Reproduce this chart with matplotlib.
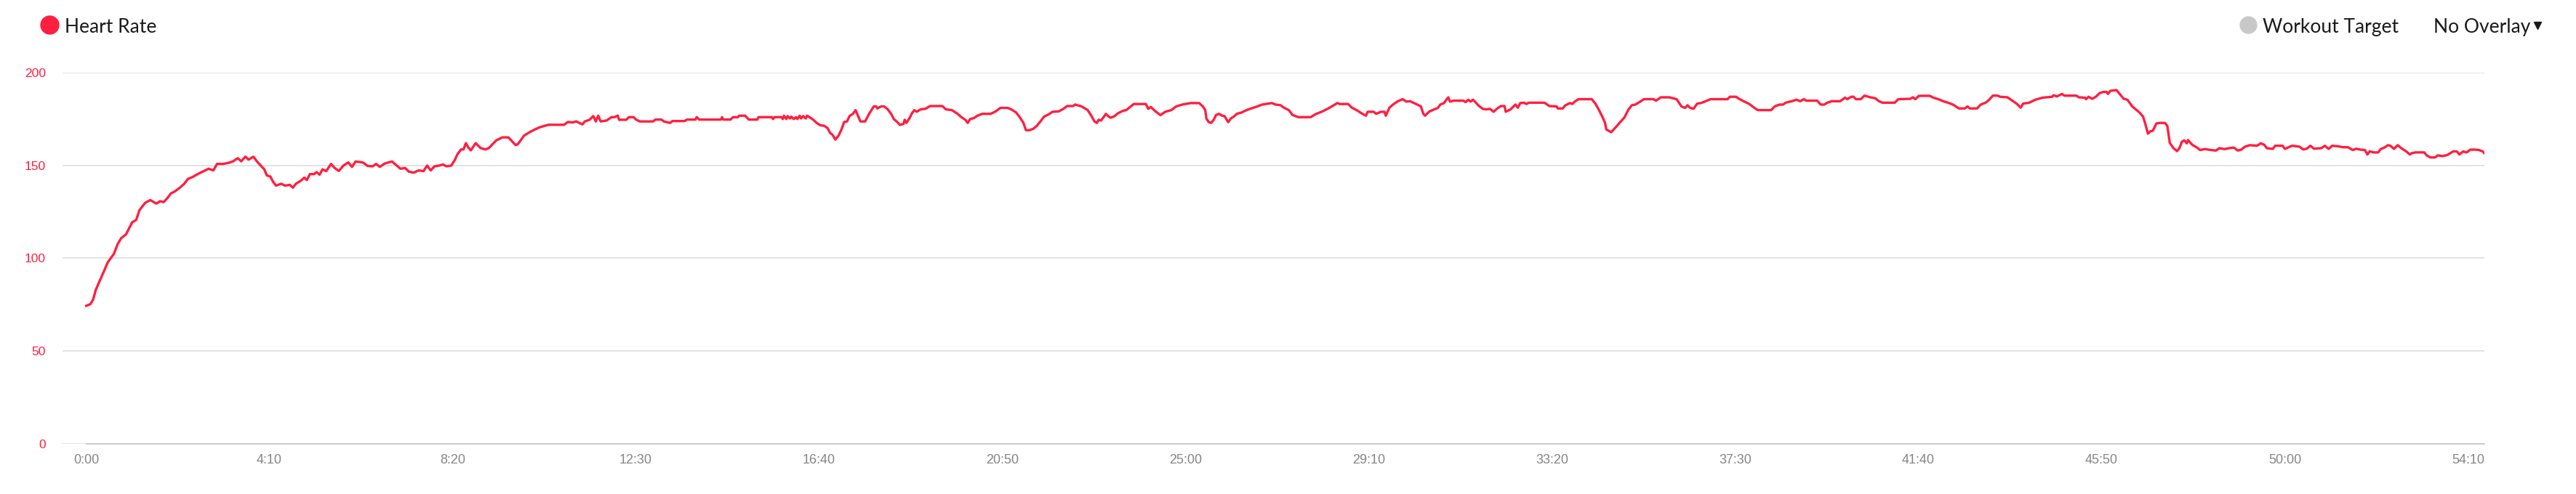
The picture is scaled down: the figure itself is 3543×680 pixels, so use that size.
import numpy as np
import matplotlib
matplotlib.use("Agg")
import matplotlib.pyplot as plt
from matplotlib.lines import Line2D
from matplotlib.ticker import FuncFormatter

# heart rate trace, elapsed seconds / bpm
elapsed_s = [
    0, 5.7, 9.5, 13, 18, 24.5, 29.5, 37.8, 42.8, 47.8, 54.3, 59.3, 62.7, 68.2, 72.6, 77.6,
    80.8, 87.5, 95.7, 100.7, 105.7, 110.6, 115.6, 120.6, 127.2, 133.8, 138.8, 145.4, 152,
    160.3, 167, 173.5, 178.5, 186.8, 193.4, 200, 206.7, 211.6, 217.2, 221.5, 228.1, 233.1,
    238.1, 243, 246.4, 251.3, 254.6, 258.9, 266.2, 271.2, 277.8, 282.1, 286.1, 292.7, 297.6,
    301, 305.3, 310.9, 314.2, 318.5, 322.5, 327.4, 334.1, 339, 344.7, 350.9,
    357.6, 362.6, 367.5, 377.5, 384, 390.7, 395.6, 400.6, 407.2, 417.2, 422.1, 428.7, 435.3,
    440.3, 447, 453.5, 460.2, 465.1, 470.1, 475.1, 481.7, 486.7, 491.6, 498.2, 503.2, 506.5,
    511.5, 514.8, 518.1, 521.5, 524.8, 531.4, 538, 544.6, 549.5, 559.5, 567.7, 576.1, 586,
    589.3, 597.5, 605.9, 612.4, 619.1, 630.7, 652.1, 657.1, 663.7, 668.7, 677, 680.3, 686.9,
    691.9, 695.3, 698.6, 701.9, 710.1, 716.7, 720.4,
    725.3, 727, 737, 740.3, 746.9, 750.2, 755.2, 773.4, 776.7, 785, 788.2, 796.6, 799.9,
    816.4, 819.7, 831.3, 832.9, 836.3, 866, 867.6, 869.3, 879.2, 882.5, 889.2, 890.8, 899.1,
    904.1, 915.7, 917.3, 935.5, 937.2, 938.9, 948.8, 950.4, 952, 955.4, 957, 960.4, 962,
    965.3, 968.6, 970.3, 973.6, 975.3, 978.5, 981.8, 983.5, 986.8, 991.8, 996.7, 1001.7,
    1006.7, 1011.6, 1015, 1018.3, 1022.2, 1026.5, 1029.9, 1034.2, 1038.1, 1041.5, 1046.4,
    1049.8, 1053, 1056.3, 1062.9, 1067.9, 1074.6, 1077.9, 1079.5, 1084.5,
    1088.7, 1093.7, 1098.6, 1101.9, 1106.9, 1110.2, 1115.2, 1116.8, 1119.1, 1123.4, 1126.7,
    1130.0, 1133.3, 1138.3, 1144.9, 1151.5, 1168.1, 1173.0, 1181.3, 1187.9, 1194.5, 1199.5,
    1202.8, 1206.1, 1211.1, 1216.0, 1222.6, 1234.2, 1240.8, 1247.4, 1257.4, 1262.3, 1268.9,
    1273.9, 1278.8, 1282.2, 1287.1, 1292.1, 1297.0, 1302.0, 1307.0, 1313.6, 1318.5, 1326.8,
    1333.4, 1338.4, 1346.6, 1349.3, 1358.2, 1366.5, 1371.4, 1375.7, 1379.0, 1381.4, 1384.7,
    1388.0, 1391.3, 1394.6, 1397.9, 1402.9, 1407.8, 1414.4, 1419.4, 1426.0, 1429.3, 1445.8,
    1449.1, 1452.5, 1459.1, 1465.7, 1472.3, 1480.6, 1487.2, 1495.5, 1507.0, 1518.6, 1523.6,
    1526.9, 1528.5, 1531.8, 1535.1,
    1538.4, 1541.7, 1545.7, 1550.0, 1553.3, 1558.2, 1561.6, 1566.5, 1569.8, 1576.4, 1583.0,
    1589.7, 1597.9, 1604.5, 1617.8, 1622.7, 1629.3, 1634.3, 1640.9, 1645.9, 1654.1, 1670.7,
    1677.3, 1685.6, 1693.8, 1700.4, 1707.1, 1710.4, 1721.9, 1726.9, 1733.5, 1740.1, 1746.1,
    1748.4, 1756.7, 1760.0, 1766.6, 1771.5, 1773.2, 1778.2, 1783.1, 1789.7, 1796.3, 1801.3,
    1806.3, 1814.5, 1821.1, 1824.5, 1826.8, 1832.7, 1837.7, 1844.3, 1847.6, 1852.6, 1855.9,
    1858.5, 1860.8, 1865.8, 1879.0, 1882.3, 1885.6, 1888.9, 1892.2, 1895.5, 1900.5, 1905.5,
    1910.4, 1915.4, 1920.3, 1925.3, 1930.3, 1935.2, 1936.9, 1943.5, 1950.1, 1953.4, 1956.7,
    1961.7, 1965.0, 1968.3, 1981.5,
    1989.8, 1996.4, 2006.3, 2008.0, 2014.6, 2017.9, 2024.5, 2027.8, 2031.1, 2036.1, 2054.3,
    2059.2, 2064.2, 2069.1, 2072.4, 2074.1, 2080.7, 2087.3, 2093.9, 2098.9, 2103.9, 2108.8,
    2113.8, 2120.4, 2125.3, 2138.6, 2141.9, 2148.5, 2160.1, 2170.0, 2176.6, 2181.6, 2184.9,
    2188.2, 2193.1, 2198.1, 2203.1, 2209.7, 2216.3, 2239.4, 2242.7, 2251.0, 2256.0, 2262.6,
    2269.2, 2275.8, 2280.8, 2299.0, 2303.9, 2310.5, 2315.5, 2318.8, 2327.1, 2333.7, 2338.6,
    2343.6, 2346.9, 2361.8, 2366.7, 2371.7, 2375.0, 2381.6, 2393.2, 2399.8, 2403.1, 2408.1,
    2411.4, 2414.7, 2421.3, 2426.3,
    2434.5, 2441.1, 2446.1, 2451.0, 2467.6, 2472.5, 2489.1, 2492.4, 2495.7, 2500.7, 2515.5,
    2520.5, 2527.1, 2533.7, 2540.3, 2547.0, 2555.2, 2563.5, 2566.8, 2570.1, 2580.0, 2585.0,
    2591.6, 2596.6, 2601.5, 2608.1, 2611.4, 2621.4, 2626.3, 2634.6, 2639.5, 2642.8, 2651.1,
    2659.4, 2669.3, 2682.5, 2684.2, 2689.1, 2695.8, 2699.1, 2715.6, 2718.9, 2727.2, 2728.8,
    2732.1, 2737.1, 2742.1, 2747.0, 2752.0, 2756.9, 2758.6, 2761.9, 2770.2, 2775.1, 2780.1,
    2785.0, 2788.3, 2791.7, 2796.6, 2801.6, 2806.5, 2809.8, 2813.1, 2816.5, 2819.8, 2824.7,
    2829.7, 2836.3, 2839.6, 2842.9, 2847.9, 2852.8, 2856.1, 2859.5, 2862.8, 2866.1, 2867.7,
    2871.0, 2874.3,
    2879.4, 2884.3, 2890.9, 2899.2, 2905.8, 2910.8, 2917.4, 2924.0, 2930.6, 2935.6, 2940.5,
    2945.5, 2952.1, 2962.0, 2967.0, 2971.9, 2975.3, 2983.5, 2986.8, 2996.8, 3000.1, 3005.0,
    3010.0, 3019.9, 3024.9, 3029.8, 3034.8, 3039.7, 3049.7, 3054.6, 3059.6, 3064.5, 3072.8,
    3079.4, 3086.0, 3092.6, 3097.6, 3102.6, 3109.2, 3112.5, 3115.8, 3120.8, 3127.4, 3130.7,
    3135.6, 3140.6, 3143.9, 3148.9, 3153.8, 3158.8, 3165.4, 3170.4, 3173.7, 3178.6, 3190.2,
    3193.5, 3198.5, 3205.1, 3208.4, 3215.0, 3221.6, 3224.9, 3229.9, 3234.8, 3238.1, 3243.1,
    3248.1, 3253.0, 3259.6, 3264.6, 3269.6, 3272.9,
]

heart_rate = [
    74.3, 75.2, 77.7, 82.8, 87.4, 93.2, 97.8, 102.3, 107.5, 110.8, 112.8, 116.7, 119.3, 120.6,
    125.8, 128.4, 129.9, 131.3, 129.4, 130.7, 130.2, 132.3, 134.9, 135.9, 137.8, 140.1, 142.7,
    143.8, 145.3, 146.9, 148.2, 147.3, 150.8, 150.8, 151.3, 152.1, 153.9, 152.2, 154.7, 153.1,
    154.7, 152.1, 149.9, 147.9, 144.6, 144.0, 141.4, 139.1, 140.1, 139.1, 139.5, 138.0, 140.1,
    141.7, 143.4, 142.1, 145.3, 145.3, 146.4, 145.0, 147.9, 146.9, 150.8, 148.6, 147.0, 149.9,
    151.6, 149.2, 152.1, 151.6, 149.7, 149.5, 150.8, 149.2, 151.0, 152.1, 150.5, 148.2, 148.6,
    146.6, 146.1, 147.3, 146.9, 149.9, 147.3, 149.5, 149.9, 150.5, 149.5, 149.9, 153.1, 156.0,
    158.6, 158.6, 162.0, 159.6, 158.1, 162.0, 159.4, 158.6, 159.4, 163.5, 165.1, 165.1, 160.9,
    161.6, 166.1, 168.1, 169.4, 170.6, 171.9, 171.9, 173.4, 173.2, 173.7, 172.1, 173.7, 174.6,
    176.6, 173.7, 176.8, 173.7, 174.2, 176.0, 176.0,
    176.8, 174.6, 174.6, 176.0, 176.0, 174.7, 173.7, 173.7, 174.7, 174.7, 173.7, 172.9, 173.9,
    173.9, 174.7, 174.7, 176.0, 174.7, 174.7, 176.0, 174.7, 174.7, 176.0, 176.0, 176.8, 176.8,
    174.7, 174.7, 176.0, 176.0, 175.0, 176.0, 176.0, 175.0, 176.8, 175.0, 176.6, 175.3, 176.3,
    175.0, 176.0, 175.0, 176.8, 175.3, 176.6, 175.3, 176.8, 176.0, 174.7, 172.9, 171.6,
    171.4, 170.1, 167.5, 166.5, 163.9, 166.0, 168.8, 173.4, 173.7, 176.6, 177.9,
    179.8, 176.8, 173.7, 173.7, 177.6, 181.8, 181.8, 180.7, 181.8,
    181.8, 180.2, 177.6, 175.0, 173.3, 171.8, 172.4, 174.6, 172.9, 175.5, 178.1,
    179.8, 178.9, 180.2, 180.5, 182.0, 182.0, 180.2, 179.8, 178.1, 175.9, 174.6,
    172.9, 175.0, 175.5, 176.8, 177.8, 177.8, 179.1, 181.0, 181.0, 180.2, 178.5,
    175.9, 172.9, 169.0, 169.0, 169.7, 171.3, 173.7, 176.3, 177.6, 178.9, 179.1,
    180.5, 182.0, 182.0, 182.8, 181.8, 179.8, 176.8, 173.7, 172.9, 174.6, 174.2,
    175.9, 177.8, 176.5, 175.7, 176.5, 178.1, 179.4, 179.9, 182.0, 183.1, 183.1,
    180.5, 181.5, 179.1, 177.1, 178.9, 179.8, 181.8, 182.8, 183.6, 183.6, 181.8,
    179.8, 175.2, 173.3, 172.9,
    174.6, 177.2, 177.8, 176.8, 176.5, 173.3, 175.2, 176.5, 177.8, 178.5, 179.8,
    180.7, 181.8, 182.8, 183.6, 182.8, 182.5, 181.1, 179.8, 177.2, 176.0, 176.0,
    177.6, 178.9, 180.5, 182.0, 183.6, 183.1, 183.1, 181.1, 179.8, 178.1, 176.8,
    178.9, 178.9, 177.8, 178.9, 178.9, 176.8, 181.1, 182.8, 184.6, 185.7, 184.4,
    184.6, 183.1, 181.8, 177.8, 176.8, 179.1, 179.9, 181.0, 182.8, 183.6, 185.4,
    186.7, 184.4, 184.9, 184.9, 184.1, 185.4, 184.4, 185.4, 184.1, 182.0, 180.5,
    180.2, 180.5, 178.9, 180.7, 182.0, 182.0, 178.9, 180.2, 182.8, 181.1, 183.6,
    183.8, 183.1, 183.8, 183.8,
    183.8, 182.0, 181.8, 180.7, 180.7, 182.3, 183.6, 183.1, 184.4, 185.7, 185.7,
    183.3, 179.8, 175.9, 172.9, 169.4, 167.9, 170.7, 173.7, 175.9, 179.8, 182.4,
    182.8, 184.4, 185.7, 185.7, 184.9, 186.7, 186.7, 185.7, 181.8, 181.0, 182.4,
    181.1, 180.5, 183.3, 183.6, 184.6, 185.7, 185.7, 187.0, 187.0, 185.7, 184.4,
    183.1, 181.1, 179.8, 179.8, 181.8, 182.8, 182.8, 183.8, 184.6, 185.4, 184.6,
    185.7, 184.9, 184.9, 182.8, 182.8, 183.7, 184.6, 184.6, 186.5, 185.7, 187.0,
    187.0, 185.7, 185.7, 187.6,
    186.7, 186.2, 184.6, 183.8, 183.8, 185.7, 185.9, 186.7, 185.7, 187.5, 187.5,
    186.5, 185.7, 184.6, 183.8, 182.8, 180.7, 180.7, 181.8, 180.7, 180.7, 182.8,
    183.8, 185.4, 187.6, 187.6, 187.0, 186.7, 185.4, 183.1, 181.1, 183.3, 183.8,
    185.4, 186.5, 187.0, 187.8, 187.2, 188.5, 187.6, 187.6, 186.7, 186.5, 185.7,
    187.0, 185.9, 187.0, 188.9, 189.6, 189.6, 188.5, 190.2, 190.6, 188.3, 185.9,
    185.4, 183.7, 181.8, 180.2, 178.5, 176.3, 172.0, 167.1, 168.4, 168.7, 172.6,
    172.9, 172.9, 171.3, 162.2, 159.3, 157.7, 159.3, 162.8, 163.5, 161.9, 163.7,
    162.2, 160.9,
    159.8, 158.3, 158.8, 158.3, 158.0, 159.3, 158.8, 159.3, 159.6, 158.0, 158.5,
    160.1, 160.9, 160.6, 161.9, 161.1, 159.3, 158.9, 160.6, 160.6, 158.9, 159.8,
    160.6, 160.1, 158.6, 159.0, 160.6, 159.0, 159.3, 160.6, 158.9, 160.6, 160.3,
    159.8, 159.8, 158.3, 159.0, 158.5, 158.3, 155.9, 157.6, 157.0, 157.0, 158.8,
    159.6, 160.9, 160.6, 158.9, 160.9, 159.3, 157.6, 155.9, 156.7, 157.0, 157.0,
    155.4, 154.3, 154.3, 155.4, 155.0, 155.6, 156.4, 157.6, 157.5, 155.9, 157.5,
    157.0, 158.5, 158.5, 158.3, 157.6, 156.3,
]

y_ticks = [0, 50, 100, 150, 200]
x_ticks = list(range(0, 3251, 250))

RED = "#ff1f3f"
GRID = "#e1e1e1"
W, H = 3543, 680

fig = plt.figure(figsize=(W / 100, H / 100), dpi=100, facecolor="white")
ax = fig.add_axes([86 / W, 69.3 / H, 3331 / W, 510.7 / H])
ax.set_facecolor("white")

ax.plot(elapsed_s, heart_rate, color=RED, lw=2.4, zorder=3, solid_joinstyle="round")

ax.set_xlim(-32.3, 3272.2)
ax.set_ylim(0, 200)
ax.set_yticks(y_ticks)
ax.set_xticks(x_ticks)
ax.xaxis.set_major_formatter(FuncFormatter(lambda v, p: "%d:%02d" % (v // 60, v % 60)))

for v in y_ticks:
    ax.axhline(v, color=GRID, lw=1.3, zorder=1)
ax.plot([0, 3272.2], [0, 0], color="#c9c9c9", lw=1.3, zorder=2, clip_on=False)

for s in ax.spines.values():
    s.set_visible(False)
ax.tick_params(axis="y", length=0, pad=16.8, labelcolor=RED, labelsize=12.6)
ax.tick_params(axis="x", length=0, pad=10, labelcolor="#858585", labelsize=13)
for lab in ax.get_xticklabels() + ax.get_yticklabels():
    lab.set_fontfamily(["Liberation Sans", "DejaVu Sans"])

# legend / header row
def fx(px):
    return px / W

def fy(py):
    return 1 - py / H

hdr_font = ["Lato", "DejaVu Sans"]

fig.add_artist(Line2D([fx(67.7)], [fy(33.5)], marker="o", ms=18, mfc=RED, mec=RED,
                      transform=fig.transFigure))
fig.text(fx(88.8), fy(45), "Heart Rate", fontsize=19, family=hdr_font,
         color="#1a1a1a", va="baseline")

fig.add_artist(Line2D([fx(3091.5)], [fy(33.5)], marker="o", ms=16.5, mfc="#c8c8c8",
                      mec="#c8c8c8", transform=fig.transFigure))
fig.text(fx(3111.6), fy(45), "Workout Target", fontsize=19, family=hdr_font,
         color="#1a1a1a", va="baseline")

fig.text(fx(3347), fy(45), "No Overlay", fontsize=19, family=hdr_font,
         color="#1a1a1a", va="baseline")
fig.add_artist(Line2D([fx(3490)], [fy(35)], marker="v", ms=7.5, mfc="#1a1a1a",
                      mec="#1a1a1a", transform=fig.transFigure))

fig.savefig("out.png", dpi=100, facecolor="white")
